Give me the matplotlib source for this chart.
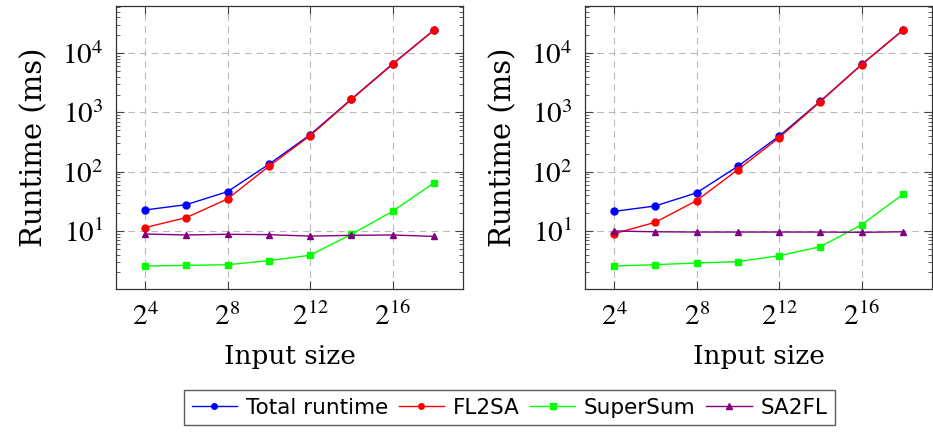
import matplotlib
matplotlib.use('Agg')
import matplotlib.pyplot as plt
from matplotlib.ticker import FixedLocator, LogLocator, NullFormatter

# input sizes (exponents of 2)
sizes = [2 ** e for e in [4, 6, 8, 10, 12, 14, 16, 18]]

# left panel (ms)
left_total = [22.6, 27.8, 46, 133, 420, 1680, 6600, 24500]
left_fl2sa = [11.4, 16.8, 34.7, 123, 405, 1650, 6500, 24300]
left_supersum = [2.57, 2.63, 2.7, 3.16, 3.9, 8.8, 21.5, 65]
left_sa2fl = [8.9, 8.56, 8.8, 8.67, 8.2, 8.45, 8.56, 8.1]

# right panel (ms)
right_total = [21.4, 26.4, 44, 123, 398, 1550, 6450, 24500]
right_fl2sa = [9.0, 14, 32.5, 108, 375, 1520, 6400, 24300]
right_supersum = [2.57, 2.7, 2.89, 3.04, 3.83, 5.44, 12.8, 41.6]
right_sa2fl = [10.0, 9.7, 9.6, 9.6, 9.6, 9.6, 9.5, 9.7]

series_names = ['Total runtime', 'FL2SA', 'SuperSum', 'SA2FL']
colors = ['#0000ff', '#ff0000', '#00ff00', '#800080']
markers = ['o', 'o', 's', '^']

plt.rcParams['font.family'] = ['DejaVu Serif']
plt.rcParams['mathtext.fontset'] = 'stix'

fig = plt.figure(figsize=(9.33, 4.34), dpi=100)
ax1 = fig.add_axes([0.1243, 0.334, 0.3719, 0.652])
ax2 = fig.add_axes([0.627, 0.334, 0.3719, 0.652])

panels = [
    (ax1, [left_total, left_fl2sa, left_supersum, left_sa2fl]),
    (ax2, [right_total, right_fl2sa, right_supersum, right_sa2fl]),
]

handles = []
for ax, data in panels:
    handles = []
    for name, vals, c, m in zip(series_names, data, colors, markers):
        h, = ax.plot(sizes, vals, color=c, marker=m, markersize=5, linewidth=1,
                     label=name)
        handles.append(h)
    ax.set_xscale('log', base=2)
    ax.set_yscale('log')
    ax.set_xlim(2 ** 2.6, 2 ** 19.4)
    ax.set_ylim(1.05, 6.2e4)
    ax.xaxis.set_major_locator(FixedLocator([2 ** 4, 2 ** 8, 2 ** 12, 2 ** 16]))
    ax.set_xticklabels(['$\\mathregular{2^{4}}$', '$\\mathregular{2^{8}}$',
                        '$\\mathregular{2^{12}}$', '$\\mathregular{2^{16}}$'])
    ax.xaxis.set_minor_locator(FixedLocator([]))
    ax.yaxis.set_major_locator(FixedLocator([10, 100, 1000, 10000]))
    ax.set_yticklabels(['$\\mathregular{10^{1}}$', '$\\mathregular{10^{2}}$',
                        '$\\mathregular{10^{3}}$', '$\\mathregular{10^{4}}$'])
    ax.yaxis.set_minor_locator(LogLocator(base=10, subs=range(2, 10), numticks=20))
    ax.yaxis.set_minor_formatter(NullFormatter())
    ax.tick_params(axis='both', which='both', direction='in', top=True, right=True,
                   color='#444444')
    ax.tick_params(which='major', length=6, width=0.8)
    ax.tick_params(which='minor', length=3, width=0.6)
    ax.tick_params(axis='x', which='major', labelsize=21, pad=10)
    ax.tick_params(axis='y', which='major', labelsize=21, pad=9)
    for lab in ax.get_xticklabels() + ax.get_yticklabels():
        lab.set_family('STIXGeneral')
    ax.grid(True, which='major', linestyle=(0, (6, 4.5)), color='#b8b8b8', linewidth=0.8)
    ax.set_xlabel('Input size', fontsize=19, labelpad=9)
    ax.set_ylabel('Runtime (ms)', fontsize=21, labelpad=10)
    for s in ax.spines.values():
        s.set_color('#333333')
        s.set_linewidth(0.9)

fig.legend(handles, series_names, loc='lower center', ncol=4,
           bbox_to_anchor=(0.546, -0.005), frameon=True, fancybox=False,
           edgecolor='#333333', prop={'family': 'DejaVu Sans', 'size': 15.5},
           handlelength=2.1, columnspacing=0.5, handletextpad=0.4,
           borderpad=0.35, markerscale=0.8)

fig.savefig('out.png', dpi=100)
